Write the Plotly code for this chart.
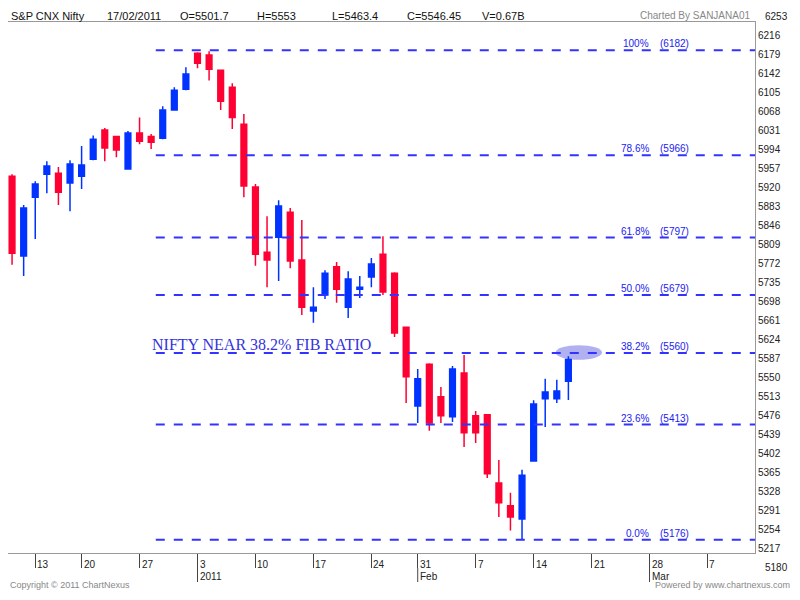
import plotly.graph_objects as go
import numpy as np

idx = list(range(49))
opens  = [5923,5759,5880,5927,5929,5909,5923,5958,6018,6005,5938,6012,6005,6001,6059,6102,6176,6172,6141,6106,6030,5901,5767,5798,5849,5751,5646,5679,5737,5654,5691,5716,5763,5724,5613,5451,5537,5470,5429,5519,5431,5433,5293,5246,5219,5338,5466,5466,5501.7]
highs  = [5927,5864,5913,5954,5942,5956,5985,6007,6022,6005,6016,6044,6010,6067,6106,6147,6178,6180,6141,6114,6051,5907,5841,5874,5858,5833,5695,5730,5747,5728,5718,5755,5800,5726,5613,5527,5539,5490,5533,5556,5441,5433,5340,5273,5320,5463,5507,5505,5553]
lows   = [5741,5718,5794,5888,5864,5851,5897,5956,5954,5962,5938,5989,5979,5999,6059,6100,6145,6120,6059,6020,5880,5739,5695,5708,5734,5638,5622,5671,5663,5632,5673,5695,5679,5593,5457,5416,5400,5416,5418,5367,5375,5303,5223,5195,5176,5338,5408,5457,5463.4]
closes = [5765,5858,5907,5944,5890,5948,5946,5999,5981,5977,6012,5995,5993,6059,6100,6133,6155,6143,6077,6044,5903,5763,5751,5862,5749,5654,5654,5724,5691,5712,5695,5743,5685,5601,5511,5507,5416,5431,5527,5396,5396,5312,5252,5223,5309,5455,5480,5482,5546.45]

xtick_pos = [2,6,11,16,21,26,31,35,40,45,50,55,60]
xtick_txt = ["13","20","27","3","10","17","24","31","7","14","21","28","7"]
xtick2 = {16:"2011",35:"Feb",55:"Mar"}

ylabels = [6253-37*i for i in range(30)]

fib_pct = ["100%","78.6%","61.8%","50.0%","38.2%","23.6%","0.0%"]
fib_val = [6182,5966,5797,5679,5560,5413,5176]

OFF = 8                      # page body margin
W, H = 800 - 2*OFF, 600 - 2*OFF
L, R, T, B = 8, 755, 22, 553   # plot box in page pixels
YR = [5149, 6240]
def px(x): return (x - L) / (R - L)
def py(y): return (B - y) / (B - T)
def yval(y): return YR[1] - (y - T) * (YR[1] - YR[0]) / (B - T)

# labels are spaced 19 px apart starting at page y=16 (as in the source chart)
label_y = [16 + 19 * i for i in range(30)]
in_rng = [(yval(y), t) for y, t in zip(label_y, ylabels) if YR[0] <= yval(y) <= YR[1]]

FONT = "Liberation Sans, Arial"
fig = go.Figure(go.Candlestick(x=idx, open=opens, high=highs, low=lows, close=closes,
    increasing=dict(line=dict(color="#0033ff", width=1.5), fillcolor="#0033ff"),
    decreasing=dict(line=dict(color="#ff0033", width=1.5), fillcolor="#ff0033"),
    whiskerwidth=0, showlegend=False))

shapes = []
anns = []
for p, v in zip(fib_pct, fib_val):
    shapes.append(dict(type="line", xref="x", yref="y", x0=12.4, x1=64.1, y0=v, y1=v,
                       line=dict(color="#3333ff", width=2, dash="dash")))
    anns.append(dict(x=55.1, y=v, xref="x", yref="y", text=p, showarrow=False,
                     xanchor="right", yanchor="bottom", yshift=-1,
                     font=dict(family=FONT, size=10, color="#2222ee")))
    anns.append(dict(x=55.7, y=v, xref="x", yref="y", text="(%d)" % v, showarrow=False,
                     xanchor="left", yanchor="bottom", yshift=-1,
                     font=dict(family=FONT, size=10, color="#2222ee")))

shapes.append(dict(type="circle", xref="x", yref="y", x0=46.9, x1=50.9, y0=5546, y1=5576,
                   fillcolor="rgba(100,100,230,0.5)", line=dict(width=0), layer="below"))

anns.append(dict(x=11.9, y=5578, xref="x", yref="y", text="NIFTY NEAR 38.2% FIB RATIO",
                 showarrow=False, xanchor="left", yanchor="middle",
                 font=dict(family="Liberation Serif, Times New Roman", size=16, color="#3333dd")))

# labels that fall outside the axis range
for y, t in zip(label_y, ylabels):
    if not (YR[0] <= yval(y) <= YR[1]):
        anns.append(dict(x=px(R + 8), y=py(y), xref="paper", yref="paper", text=str(t),
                         showarrow=False, xanchor="left", yanchor="middle",
                         font=dict(family=FONT, size=10, color="#222")))

for xp, t in zip(xtick_pos, xtick_txt):
    anns.append(dict(x=xp, y=py(557), xref="x", yref="paper", text=t, showarrow=False,
                     xanchor="left", yanchor="top",
                     font=dict(family=FONT, size=10, color="#222")))
for xp, t in xtick2.items():
    anns.append(dict(x=xp, y=py(569), xref="x", yref="paper", text=t, showarrow=False,
                     xanchor="left", yanchor="top",
                     font=dict(family=FONT, size=10, color="#222")))
    shapes.append(dict(type="line", xref="x", yref="paper", x0=xp, x1=xp, y0=py(568), y1=py(582),
                       line=dict(color="#444", width=1)))

hdr = [("S&P CNX Nifty", 9), ("17/02/2011", 105), ("O=5501.7", 178), ("H=5553", 255),
       ("L=5463.4", 330), ("C=5546.45", 405), ("V=0.67B", 480)]
for t, x in hdr:
    anns.append(dict(x=px(x), y=py(8), xref="paper", yref="paper", text=t, showarrow=False,
                     xanchor="left", yanchor="top",
                     font=dict(family=FONT, size=11, color="#111")))
anns.append(dict(x=px(752), y=py(8), xref="paper", yref="paper", text="Charted By SANJANA01",
                 showarrow=False, xanchor="right", yanchor="top",
                 font=dict(family=FONT, size=10, color="#888")))
anns.append(dict(x=px(8), y=py(592), xref="paper", yref="paper", text="Copyright © 2011 ChartNexus",
                 showarrow=False, xanchor="left", yanchor="bottom",
                 font=dict(family=FONT, size=9, color="#888")))
anns.append(dict(x=px(792), y=py(592), xref="paper", yref="paper", text="Powered by www.chartnexus.com",
                 showarrow=False, xanchor="right", yanchor="bottom",
                 font=dict(family=FONT, size=9, color="#888")))

fig.update_layout(
    width=W, height=H,
    margin=dict(l=L - OFF, r=(800 - OFF) - R, t=T - OFF, b=(600 - OFF) - B, autoexpand=False),
    paper_bgcolor="white", plot_bgcolor="white",
    shapes=shapes, annotations=anns,
    xaxis=dict(range=[-0.35, 64.1], rangeslider=dict(visible=False), showgrid=False,
               tickvals=xtick_pos, showticklabels=False, ticks="outside", ticklen=14,
               tickcolor="#444", showline=True, linecolor="#999", mirror=True, zeroline=False,
               automargin=False),
    yaxis=dict(range=YR, side="right", tickvals=[v for v, _ in in_rng],
               ticktext=[str(t) for _, t in in_rng],
               showgrid=False, ticks="", showline=True, linecolor="#999", mirror=True, zeroline=False,
               automargin=False,
               tickfont=dict(family=FONT, size=10, color="#222")),
)
fig.write_html("out.html")
